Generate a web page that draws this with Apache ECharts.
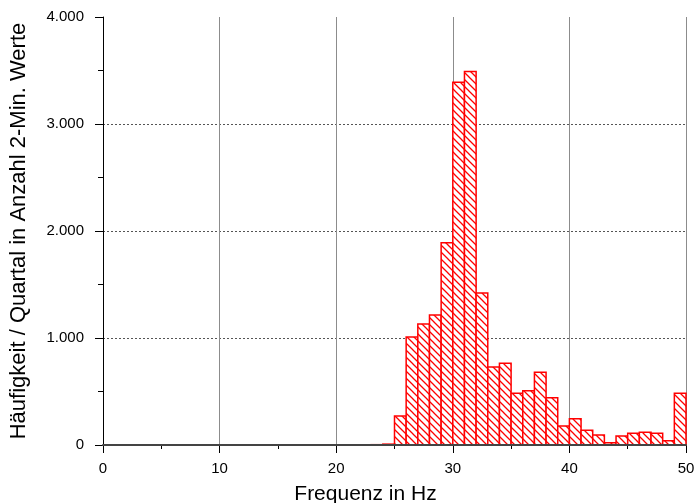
<!DOCTYPE html>
<html><head><meta charset="utf-8">
<script src="https://cdn.jsdelivr.net/npm/echarts@6/dist/echarts.min.js"></script>
<style>html,body{margin:0;padding:0;background:#fff}#c{width:696px;height:503px}</style>
</head><body><div id="c"></div>
<script>
// Histogram bins (lower edge, upper edge in Hz) and counts
var binLow  = [23, 24, 25, 26, 27, 28, 29, 30, 31, 32, 33, 34, 35, 36, 37, 38, 39, 40, 41, 42, 43, 44, 45, 46, 47, 48, 49];
var binHigh = [24, 25, 26, 27, 28, 29, 30, 31, 32, 33, 34, 35, 36, 37, 38, 39, 40, 41, 42, 43, 44, 45, 46, 47, 48, 49, 50];
var counts  = [3, 8, 270, 1010, 1130, 1215, 1890, 3390, 3490, 1420, 730, 763, 483, 508, 679, 442, 178, 246, 137, 93, 22, 84, 109, 118, 109, 40, 483];
var xTicks = [0, 10, 20, 30, 40, 50];
var yTicks = [0, 1000, 2000, 3000, 4000];

function fmtDE(v){ return String(v).replace(/\B(?=(\d{3})+(?!\d))/g, '.'); }

// hatch pattern
var s = 7;
var pc = document.createElement('canvas');
pc.width = s; pc.height = s;
var g = pc.getContext('2d');
g.fillStyle = '#ffffff'; g.fillRect(0,0,s,s);
g.strokeStyle = '#ff0000'; g.lineWidth = 1.3;
g.beginPath();
g.moveTo(-1,-1); g.lineTo(s+1,s+1);
g.moveTo(-1,s-1); g.lineTo(1,s+1);
g.moveTo(s-1,-1); g.lineTo(s+1,1);
g.stroke();
var pattern = {image: pc, repeat: 'repeat'};

var data = binLow.map(function(l,i){ return [l, binHigh[i], counts[i]]; });

var font = "'Liberation Sans', Arial, sans-serif";
var chart = echarts.init(document.getElementById('c'), null, {renderer:'canvas'});
chart.setOption({
  animation: false,
  backgroundColor: '#fff',
  grid: {left: 103, right: 10, top: 17, bottom: 58, containLabel: false, outerBoundsMode: 'none'},
  xAxis: [{
    type: 'value', min: xTicks[0], max: xTicks[xTicks.length-1], interval: 10,
    name: 'Frequenz in Hz', nameLocation: 'middle', nameGap: 39,
    nameTextStyle: {fontFamily: font, fontSize: 21, color: '#000', padding: [0, 58, 0, 0]},
    axisLine: {show: true, onZero: false, lineStyle: {color: '#000', width: 1}},
    axisTick: {show: true, inside: false, length: 8, lineStyle: {color: '#000'}},
    minorTick: {show: true, splitNumber: 2, length: 4, lineStyle: {color: '#000'}},
    axisLabel: {fontFamily: font, fontSize: 15, color: '#000', margin: 16},
    splitLine: {show: true, showMinLine: false, lineStyle: {color: '#8c8c8c', width: 1, type: 'solid'}}
  },{
    type: 'value', position: 'top', min: 0, max: 50, z: 5,
    axisLine: {show: true, lineStyle: {color: '#444', width: 2}},
    axisTick: {show: false}, axisLabel: {show: false}, splitLine: {show: false}
  }],
  yAxis: {
    type: 'value', min: yTicks[0], max: yTicks[yTicks.length-1], interval: 1000,
    name: 'Häufigkeit / Quartal in Anzahl 2-Min. Werte', nameLocation: 'middle', nameGap: 73,
    nameTextStyle: {fontFamily: font, fontSize: 22, color: '#000'},
    axisLine: {show: true, lineStyle: {color: '#000', width: 1}},
    axisTick: {show: true, inside: false, length: 8, lineStyle: {color: '#000'}},
    minorTick: {show: true, splitNumber: 2, length: 5, lineStyle: {color: '#000'}},
    axisLabel: {fontFamily: font, fontSize: 15, color: '#000', margin: 19, formatter: fmtDE},
    splitLine: {show: true, showMinLine: false, showMaxLine: false, lineStyle: {color: '#555', width: 1, type: [2, 2]}}
  },
  series: [{
    type: 'custom',
    xAxisIndex: 0,
    encode: {x: [0, 1], y: 2},
    data: data,
    renderItem: function(params, api){
      var p0 = api.coord([api.value(0), api.value(2)]);
      var p1 = api.coord([api.value(1), 0]);
      return {
        type: 'rect',
        shape: {x: p0[0], y: p0[1], width: p1[0]-p0[0], height: p1[1]-p0[1]},
        style: {fill: pattern, stroke: '#ff0000', lineWidth: 1.5}
      };
    }
  }]
});
</script></body></html>
